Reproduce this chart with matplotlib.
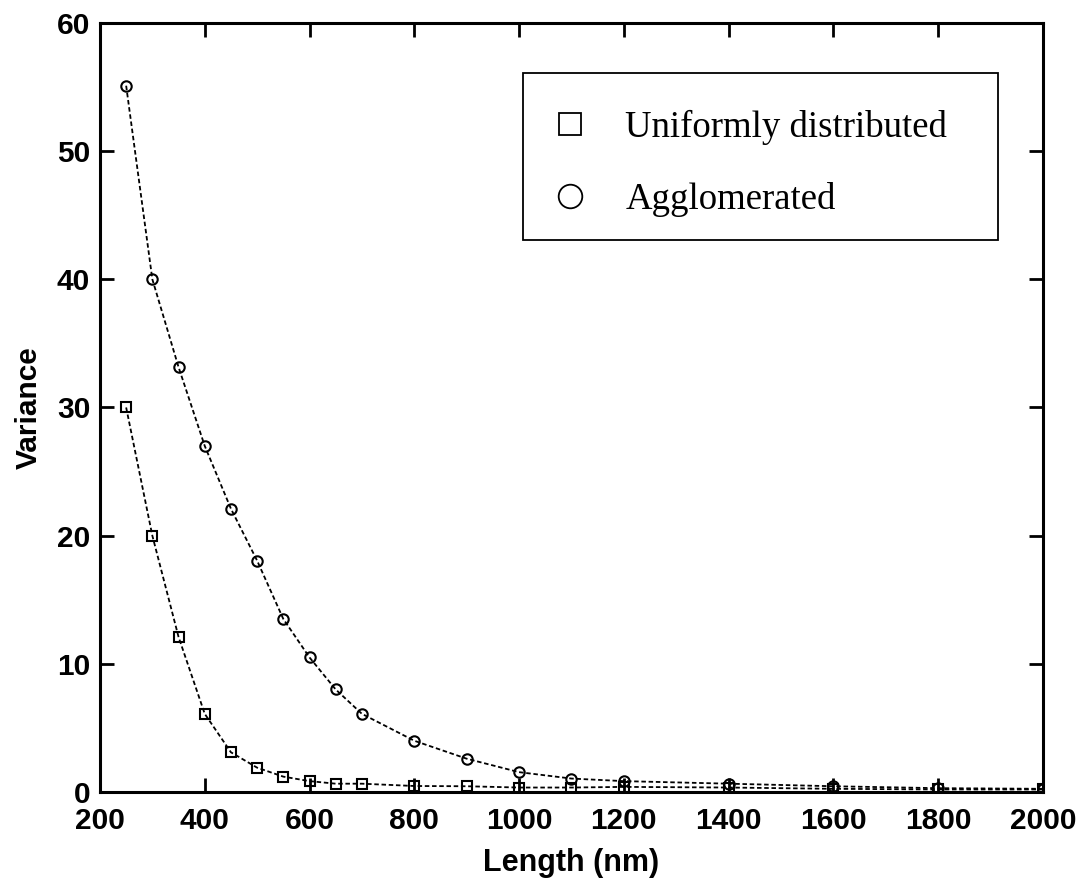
import matplotlib.pyplot as plt
from matplotlib.lines import Line2D
from matplotlib.patches import Rectangle

length = [250, 300, 350, 400, 450, 500, 550, 600, 650, 700, 800, 900, 1000,
          1100, 1200, 1400, 1600, 1800, 2000]
var_uniform = [30.0, 20.0, 12.1, 6.1, 3.1, 1.9, 1.2, 0.85, 0.65, 0.65, 0.47,
               0.45, 0.35, 0.35, 0.4, 0.35, 0.25, 0.2, 0.2]
var_agglom = [55.1, 40.0, 33.15, 27.0, 22.1, 18.05, 13.5, 10.5, 8.0, 6.1, 4.0,
              2.6, 1.55, 1.05, 0.85, 0.65, 0.45, 0.3, 0.25]

xticks = [200, 400, 600, 800, 1000, 1200, 1400, 1600, 1800, 2000]
yticks = [0, 10, 20, 30, 40, 50, 60]

fig = plt.figure(figsize=(10.83, 8.81), dpi=100)
ax = fig.add_axes([0.0923, 0.101, 0.8707, 0.873])

dash = (0, (2.5, 1.5))
ax.plot(length, var_uniform, linestyle=dash, color='black', linewidth=1.3,
        marker='s', markersize=7, markerfacecolor='none',
        markeredgecolor='black', markeredgewidth=1.5)
ax.plot(length, var_agglom, linestyle=dash, color='black', linewidth=1.3,
        marker='o', markersize=7.5, markerfacecolor='none',
        markeredgecolor='black', markeredgewidth=1.5)

ax.set_xlim(200, 2000)
ax.set_ylim(0, 60)
ax.set_xticks(xticks)
ax.set_yticks(yticks)
ax.tick_params(direction='in', length=10, width=2, top=True, right=True,
               labelsize=21.5)
ax.tick_params(axis='x', pad=11)
ax.tick_params(axis='y', pad=7)
for lab in ax.get_xticklabels() + ax.get_yticklabels():
    lab.set_fontfamily('Liberation Sans')
    lab.set_fontweight('bold')
for sp in ax.spines.values():
    sp.set_linewidth(2.2)

ax.set_xlabel('Length (nm)', fontsize=22, fontweight='bold',
              family='Liberation Sans', labelpad=9)
ax.set_ylabel('Variance', fontsize=21.5, fontweight='bold',
              family='Liberation Sans', labelpad=10)

# legend box
ax.add_patch(Rectangle((0.4486, 0.7175), 0.5034, 0.2175, transform=ax.transAxes,
                       fill=False, edgecolor='black', linewidth=1.3, zorder=5))
handles = [Line2D([], [], linestyle='none', marker='s', markersize=16,
                  markerfacecolor='none', markeredgecolor='black', markeredgewidth=1.3),
           Line2D([], [], linestyle='none', marker='o', markersize=17,
                  markerfacecolor='none', markeredgecolor='black', markeredgewidth=1.3)]
ax.legend(handles, ['Uniformly distributed', 'Agglomerated'], loc='center left',
          bbox_to_anchor=(0.479, 0.817), frameon=False, borderpad=0,
          borderaxespad=0,
          prop={'family': 'Liberation Serif', 'size': 26.5},
          labelspacing=1.0, handletextpad=1.0, handlelength=1.0)

fig.savefig('out.png', dpi=100)
